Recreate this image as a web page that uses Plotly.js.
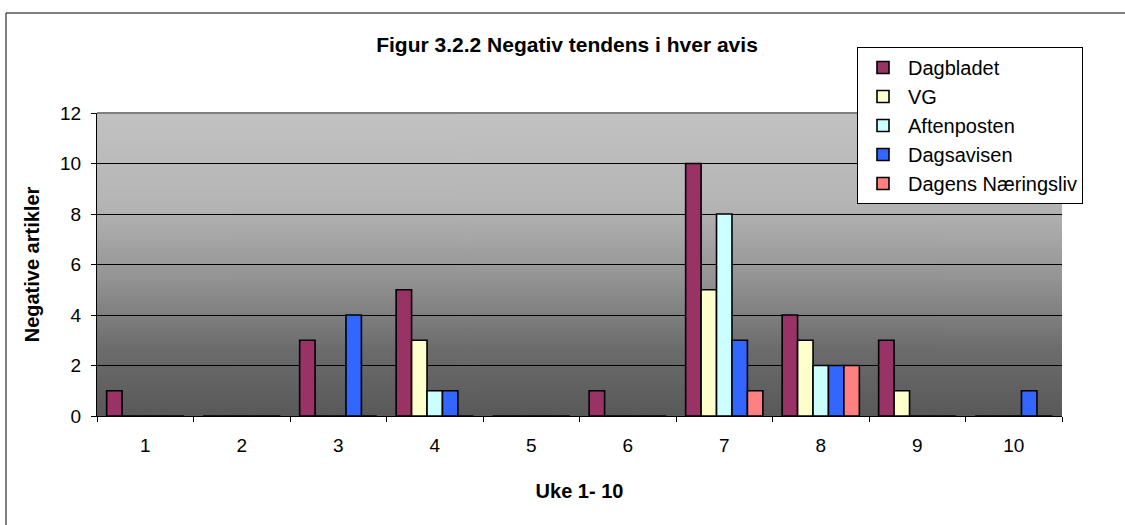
<!DOCTYPE html>
<html>
<head>
<meta charset="utf-8">
<script src="https://cdn.plot.ly/plotly-3.0.1.min.js"></script>
<style>html,body{margin:0;padding:0;background:#fff;}#chart{width:1125px;height:525px;}</style>
</head>
<body>
<div id="chart"></div>
<script>
const weeks = ['1','2','3','4','5','6','7','8','9','10'];
const dagbladet = [1,0,3,5,0,1,10,4,3,0];
const vg = [0,0,0,3,0,0,5,3,1,0];
const aftenposten = [0,0,0,1,0,0,8,2,0,0];
const dagsavisen = [0,0,4,1,0,0,3,2,0,1];
const dagensNaeringsliv = [0,0,0,0,0,0,1,2,0,0];
const seriesNames = ['Dagbladet','VG','Aftenposten','Dagsavisen','Dagens Næringsliv'];
const seriesColors = ['#993366','#FFFFCC','#CCFFFF','#3366FF','#FF8080'];
const seriesValues = [dagbladet, vg, aftenposten, dagsavisen, dagensNaeringsliv];

// gradient background image
const cv = document.createElement('canvas');
cv.width = 4; cv.height = 300;
const ctx = cv.getContext('2d');
const g = ctx.createLinearGradient(0,0,0,300);
g.addColorStop(0,'#C2C2C2');
g.addColorStop(0.3,'#B5B5B5');
g.addColorStop(0.55,'#939393');
g.addColorStop(0.78,'#6C6C6C');
g.addColorStop(1,'#595959');
ctx.fillStyle = g; ctx.fillRect(0,0,4,300);
const bgUrl = cv.toDataURL('image/png');

const FONT = 'Arial, "Liberation Sans", sans-serif';

const traces = seriesNames.map((n,i)=>({
  type:'bar', name:n, x:weeks, y:seriesValues[i],
  marker:{color:seriesColors[i], line:{color:'#000', width:1.6}},
  hoverinfo:'x+y+name'
}));

const layout = {
  width:1125, height:525,
  margin:{l:97, r:63, t:113, b:109, pad:0},
  paper_bgcolor:'#fff', plot_bgcolor:'#5a5a5a',
  font:{family:FONT, size:20, color:'#000'},
  barmode:'group', bargap:0.2, bargroupgap:0,
  title:{text:'<b>Figur 3.2.2 Negativ tendens i hver avis</b>', font:{family:FONT,size:21,color:'#000'},
         xref:'container', x:0.504, xanchor:'center', yref:'container', y:1-45/525, yanchor:'middle'},
  xaxis:{type:'category', categoryorder:'array', categoryarray:weeks,
         ticks:'outside', tickson:'boundaries', ticklen:5, tickcolor:'#000', tickwidth:1,
         ticklabelstandoff:12,
         showline:true, linecolor:'#000', linewidth:1, showgrid:false, zeroline:false,
         tickfont:{family:FONT,size:19}, fixedrange:true,
         title:{text:'<b>Uke 1- 10</b>', font:{family:FONT,size:20}, standoff:29}},
  yaxis:{range:[0,12], dtick:2, tick0:0, ticks:'outside', ticklen:5, tickcolor:'#000', tickwidth:1,
         ticklabelstandoff:6,
         showline:true, linecolor:'#000', linewidth:1, showgrid:true, gridcolor:'#000', gridwidth:1,
         zeroline:false, tickfont:{family:FONT,size:19}, fixedrange:true,
         title:{text:'<b>Negative artikler</b>', font:{family:FONT,size:20}, standoff:15}},
  legend:{x:(857-97)/965, xanchor:'left', y:1+66/303, yanchor:'top',
          bgcolor:'#fff', bordercolor:'#000', borderwidth:1,
          font:{family:FONT,size:20,color:'#000'}, traceorder:'normal',
          itemwidth:40},
  images:[{source:bgUrl, xref:'paper', yref:'paper', x:0, y:1, sizex:1, sizey:1,
           sizing:'stretch', xanchor:'left', yanchor:'top', layer:'below'}],
  shapes:[
    {type:'line', xref:'paper', yref:'paper', x0:0, x1:1, y0:1, y1:1, line:{color:'#808080', width:2}, layer:'above'},
    {type:'rect', xref:'paper', yref:'paper', x0:(6-97)/965, x1:1.2, y0:-0.6, y1:(416-13)/303,
     line:{color:'#000', width:1}, fillcolor:'rgba(0,0,0,0)', layer:'above'}
  ],
  showlegend:true
};

Plotly.newPlot('chart', traces, layout, {displayModeBar:false, staticPlot:true});
</script>
</body>
</html>
